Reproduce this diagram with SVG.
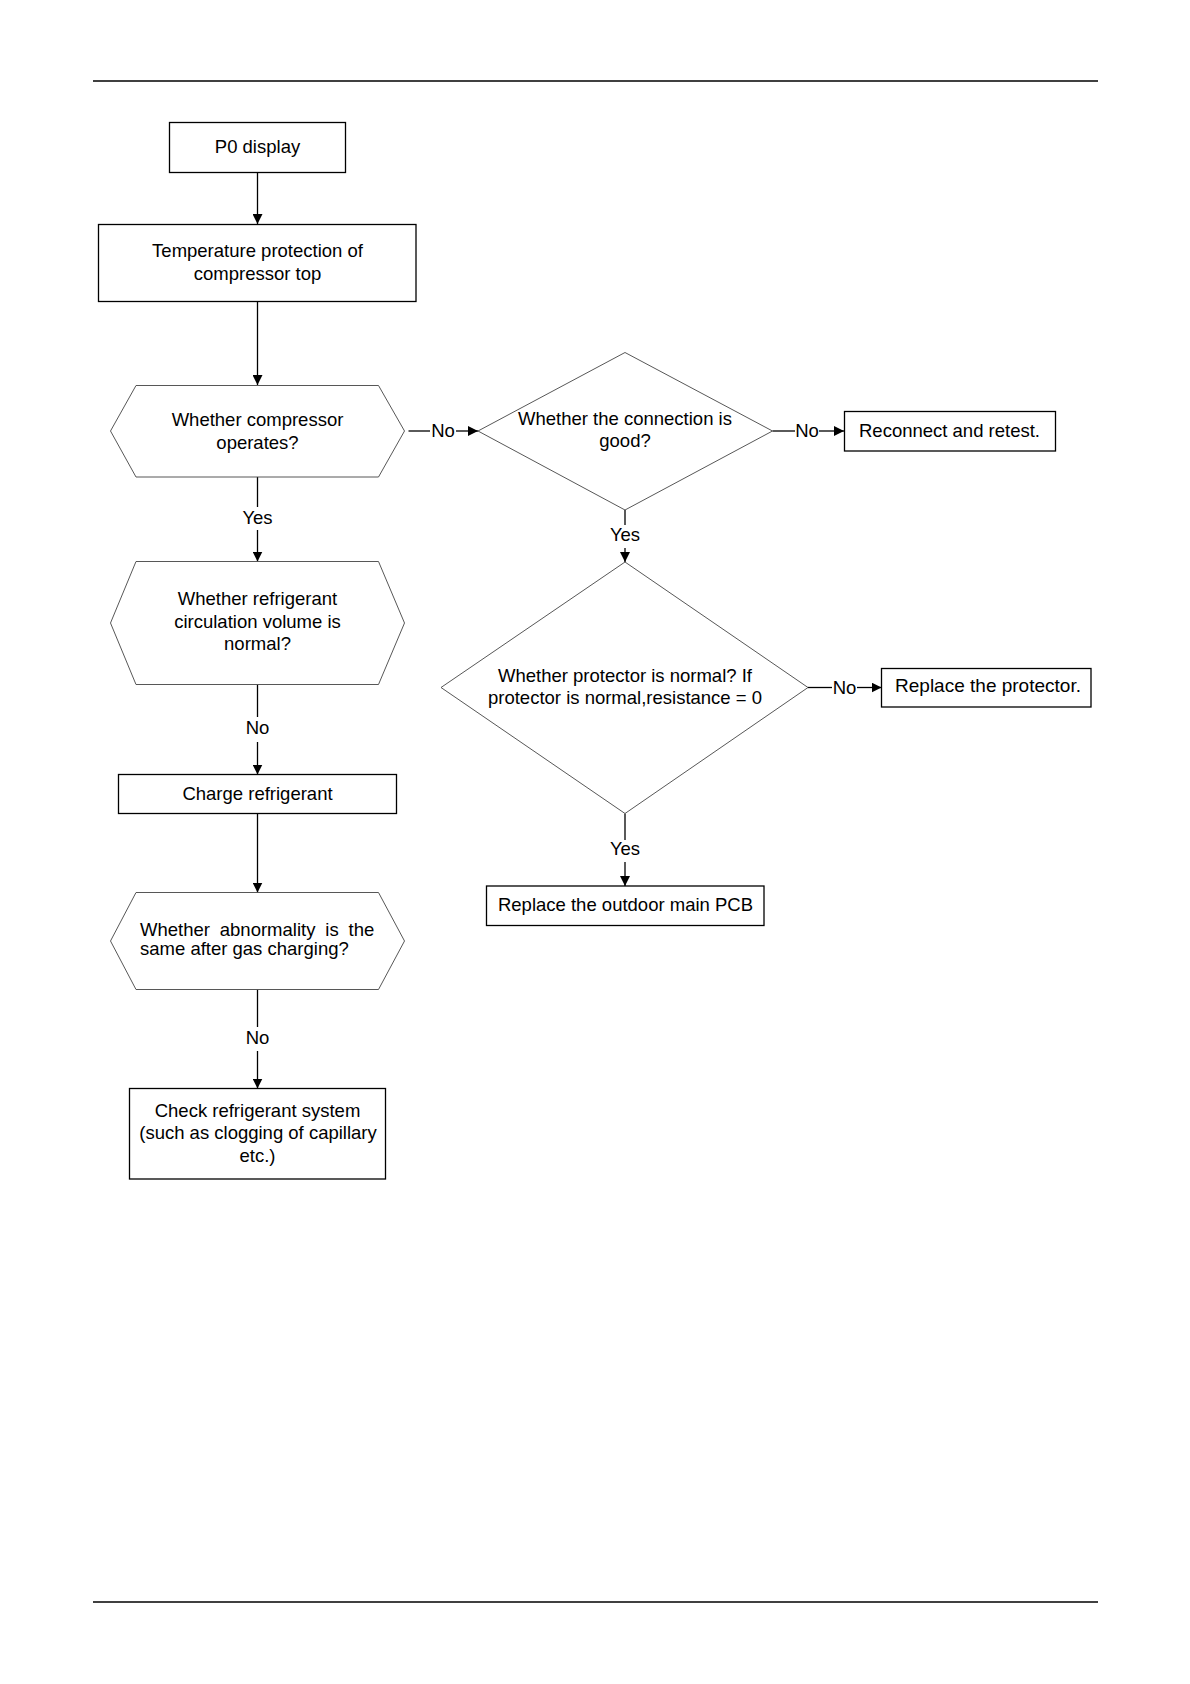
<svg xmlns="http://www.w3.org/2000/svg" width="1190" height="1684" viewBox="0 0 1190 1684">
<defs>
<marker id="ah" markerUnits="userSpaceOnUse" markerWidth="10" markerHeight="10" viewBox="0 0 10 10" refX="10" refY="5" orient="auto">
<path d="M0,0 L10,5 L0,10 Z" fill="#000"/>
</marker>
</defs>
<style>
text{font-family:"Liberation Sans",Arial,sans-serif;font-size:18.5px;fill:#000}
.c{text-anchor:middle}
.box{fill:#fff;stroke:#000;stroke-width:1.3}
.shape{fill:#fff;stroke:#444;stroke-width:0.9}
.ln{fill:none;stroke:#000;stroke-width:1.3}
.ar{fill:none;stroke:#000;stroke-width:1.3;marker-end:url(#ah)}
.rule{stroke:#000;stroke-width:1.6}
</style>
<rect width="1190" height="1684" fill="#fff"/>
<line class="rule" x1="93" y1="81" x2="1098" y2="81"/>
<line class="rule" x1="93" y1="1602" x2="1098" y2="1602"/>

<g id="connectors">
<line class="ar" x1="257.5" y1="172.5" x2="257.5" y2="224"/>
<line class="ar" x1="257.5" y1="301.5" x2="257.5" y2="385"/>
<line class="ln" x1="257.5" y1="477" x2="257.5" y2="507"/>
<line class="ar" x1="257.5" y1="530" x2="257.5" y2="561.5"/>
<text class="c" x="257.5" y="524">Yes</text>
<line class="ln" x1="257.5" y1="684.5" x2="257.5" y2="717"/>
<line class="ar" x1="257.5" y1="742" x2="257.5" y2="774.5"/>
<text class="c" x="257.5" y="734">No</text>
<line class="ar" x1="257.5" y1="813.5" x2="257.5" y2="892.5"/>
<line class="ln" x1="257.5" y1="989.5" x2="257.5" y2="1027"/>
<line class="ar" x1="257.5" y1="1051" x2="257.5" y2="1088.5"/>
<text class="c" x="257.5" y="1044">No</text>
<line class="ln" x1="408.5" y1="431" x2="430" y2="431"/>
<line class="ar" x1="456" y1="431" x2="478" y2="431"/>
<text class="c" x="443" y="437">No</text>
<line class="ln" x1="772.5" y1="431" x2="795" y2="431"/>
<line class="ar" x1="819" y1="431" x2="844" y2="431"/>
<text class="c" x="807" y="437">No</text>
<line class="ln" x1="625" y1="510" x2="625" y2="525"/>
<line class="ar" x1="625" y1="548" x2="625" y2="562"/>
<text class="c" x="625" y="541">Yes</text>
<line class="ln" x1="808" y1="687.5" x2="832" y2="687.5"/>
<line class="ar" x1="857" y1="687.5" x2="881.5" y2="687.5"/>
<text class="c" x="844.5" y="693.5">No</text>
<line class="ln" x1="625" y1="813.5" x2="625" y2="840"/>
<line class="ar" x1="625" y1="862" x2="625" y2="886"/>
<text class="c" x="625" y="855">Yes</text>
</g>

<g id="p0">
<rect class="box" x="169.5" y="122.5" width="176" height="50"/>
<text class="c" x="257.5" y="153">P0 display</text>
</g>
<g id="temp">
<rect class="box" x="98.5" y="224.5" width="317.5" height="77"/>
<text class="c" x="257.5" y="257">Temperature protection of</text>
<text class="c" x="257.5" y="280">compressor top</text>
</g>
<g id="q-operates">
<polygon class="shape" points="110.5,431 136,385.5 378.5,385.5 404.5,431 378.5,477 136,477"/>
<text class="c" x="257.5" y="426">Whether compressor</text>
<text class="c" x="257.5" y="448.5">operates?</text>
</g>
<g id="q-volume">
<polygon class="shape" points="110.5,623 136,561.5 378.5,561.5 404.5,623 378.5,684.5 136,684.5"/>
<text class="c" x="257.5" y="605">Whether refrigerant</text>
<text class="c" x="257.5" y="627.5">circulation volume is</text>
<text class="c" x="257.5" y="650">normal?</text>
</g>
<g id="charge">
<rect class="box" x="118.5" y="774.5" width="278" height="39"/>
<text class="c" x="257.5" y="800">Charge refrigerant</text>
</g>
<g id="q-same">
<polygon class="shape" points="110.5,941 136,892.5 378.5,892.5 404.5,941 378.5,989.5 136,989.5"/>
<text y="935.7"><tspan x="140">Whether</tspan><tspan x="219.8">abnormality</tspan><tspan x="325.3">is</tspan><tspan x="348.6">the</tspan></text>
<text x="140" y="955">same after gas charging?</text>
</g>
<g id="check">
<rect class="box" x="129.5" y="1088.5" width="256" height="90.5"/>
<text class="c" x="257.5" y="1116.5">Check refrigerant system</text>
<text class="c" x="258" y="1138.5">(such as clogging of capillary</text>
<text class="c" x="257.5" y="1161.5">etc.)</text>
</g>
<g id="q-connection">
<polygon class="shape" points="478,431 625,352.5 772.5,431 625,510"/>
<text class="c" x="625" y="425">Whether the connection is</text>
<text class="c" x="625" y="447">good?</text>
</g>
<g id="reconnect">
<rect class="box" x="844.5" y="411.5" width="211" height="39.5"/>
<text class="c" x="949.5" y="436.7">Reconnect and retest.</text>
</g>
<g id="q-protector">
<polygon class="shape" points="441,687.5 625,562 808,687.5 625,813.5"/>
<text class="c" x="625" y="681.5">Whether protector is normal? If</text>
<text class="c" x="625" y="703.5">protector is normal,resistance = 0</text>
</g>
<g id="replace-protector">
<rect class="box" x="881.5" y="668.5" width="209.5" height="38.5"/>
<text class="c" x="988" y="692" style="font-size:19px">Replace the protector.</text>
</g>
<g id="replace-pcb">
<rect class="box" x="486.5" y="886" width="277.5" height="39.5"/>
<text class="c" x="625.5" y="911">Replace the outdoor main PCB</text>
</g>
</svg>
